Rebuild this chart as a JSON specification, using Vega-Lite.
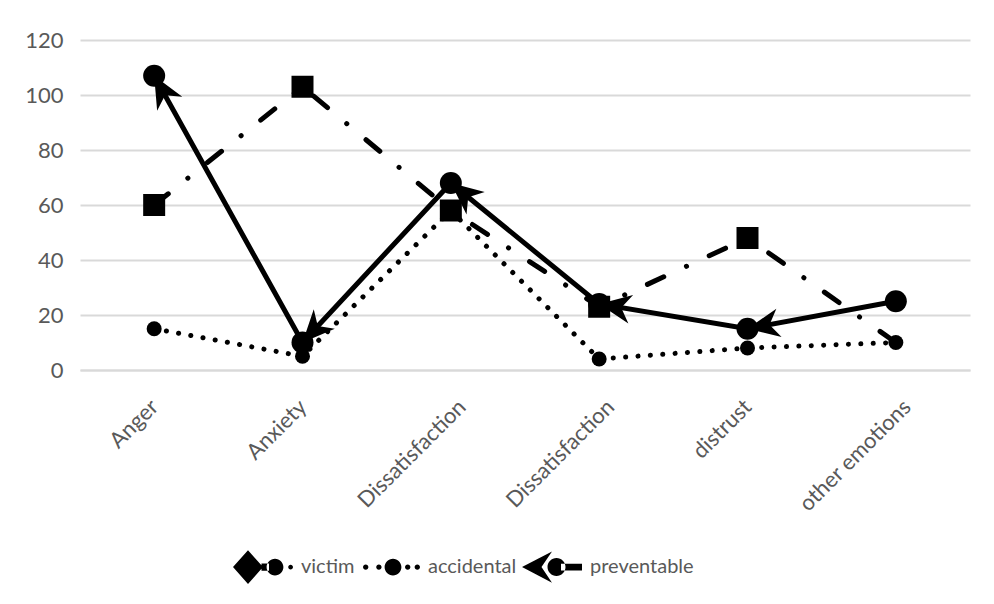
{
  "$schema": "https://vega.github.io/schema/vega-lite/v6.json",
  "width": 890,
  "height": 330,
  "autosize": {"type": "none"},
  "padding": {"left": 80, "top": 40, "right": 24, "bottom": 234},
  "background": "white",
  "config": {
    "font": "Lato",
    "view": {"stroke": null},
    "axis": {
      "labelFont": "Lato",
      "labelFontSize": 22,
      "labelColor": "#595959",
      "title": null,
      "ticks": false
    },
    "legend": {
      "labelFont": "Lato",
      "labelFontSize": 20,
      "labelColor": "#595959"
    }
  },
  "data": {
    "values": [
      {"emotion": "Anger", "group": "victim", "count": 60},
      {"emotion": "Anxiety", "group": "victim", "count": 103},
      {"emotion": "Dissatisfaction", "group": "victim", "count": 58},
      {"emotion": "Dissatisfaction ", "group": "victim", "count": 23},
      {"emotion": "distrust", "group": "victim", "count": 48},
      {"emotion": "other emotions", "group": "victim", "count": 10},
      {"emotion": "Anger", "group": "accidental", "count": 15},
      {"emotion": "Anxiety", "group": "accidental", "count": 5},
      {"emotion": "Dissatisfaction", "group": "accidental", "count": 58},
      {"emotion": "Dissatisfaction ", "group": "accidental", "count": 4},
      {"emotion": "distrust", "group": "accidental", "count": 8},
      {"emotion": "other emotions", "group": "accidental", "count": 10},
      {"emotion": "Anger", "group": "preventable", "count": 107},
      {"emotion": "Anxiety", "group": "preventable", "count": 10},
      {"emotion": "Dissatisfaction", "group": "preventable", "count": 68},
      {"emotion": "Dissatisfaction ", "group": "preventable", "count": 24},
      {"emotion": "distrust", "group": "preventable", "count": 15},
      {"emotion": "other emotions", "group": "preventable", "count": 25}
    ]
  },
  "encoding": {
    "x": {
      "field": "emotion",
      "type": "ordinal",
      "sort": ["Anger", "Anxiety", "Dissatisfaction", "Dissatisfaction ", "distrust", "other emotions"],
      "scale": {"type": "point", "padding": 0.5},
      "axis": {
        "labelAngle": -45,
        "labelAlign": "right",
        "labelBaseline": "middle",
        "labelPadding": 33,
        "labelOffset": {"condition": {"test": "length(datum.label) > 10", "value": 11}, "value": 0},
        "domain": true,
        "domainColor": "#d9d9d9",
        "domainWidth": 2,
        "grid": false
      }
    },
    "y": {
      "field": "count",
      "type": "quantitative",
      "scale": {"domain": [0, 120], "nice": false},
      "axis": {
        "values": [0, 20, 40, 60, 80, 100, 120],
        "domain": false,
        "grid": true,
        "gridColor": "#d9d9d9",
        "gridWidth": 2,
        "labelPadding": 17
      }
    }
  },
  "layer": [
    {
      "transform": [{"filter": "datum.group === 'victim'"}],
      "mark": {"type": "line", "color": "black", "strokeWidth": 5, "strokeCap": "round", "strokeDash": [18, 25, 0.1, 25]}
    },
    {
      "transform": [{"filter": "datum.group === 'victim' && datum.emotion !== 'other emotions'"}],
      "mark": {"type": "point", "shape": "square", "filled": true, "color": "black", "opacity": 1, "size": 484}
    },
    {
      "transform": [{"filter": "datum.group === 'accidental'"}],
      "mark": {"type": "line", "color": "black", "strokeWidth": 5, "strokeCap": "round", "strokeDash": [0.1, 12.3]}
    },
    {
      "transform": [{"filter": "datum.group === 'accidental'"}],
      "mark": {"type": "point", "shape": "circle", "filled": true, "color": "black", "opacity": 1, "size": 225}
    },
    {
      "transform": [{"filter": "datum.group === 'preventable'"}],
      "mark": {"type": "line", "color": "black", "strokeWidth": 5}
    },
    {
      "transform": [
        {"filter": "datum.group === 'preventable'"},
        {"window": [{"op": "lead", "field": "count", "as": "next"}]},
        {"filter": "datum.next != null"},
        {"calculate": "atan2((datum.count - datum.next) * 2.75, 148.33) * 180 / PI", "as": "heading"}
      ],
      "mark": {"type": "point", "shape": "M0,0L2,-0.9L1.4,0L2,0.9Z", "filled": true, "color": "black", "opacity": 1, "size": 1024},
      "encoding": {
        "angle": {"field": "heading", "type": "quantitative", "scale": null}
      }
    },
    {
      "transform": [{"filter": "datum.group === 'preventable'"}],
      "mark": {"type": "point", "shape": "circle", "filled": true, "color": "black", "opacity": 1, "size": 484}
    },
    {
      "transform": [{"filter": "false"}],
      "mark": {"type": "point", "filled": true, "color": "black", "opacity": 1},
      "encoding": {
        "shape": {
          "field": "group",
          "type": "nominal",
          "scale": {
            "domain": ["victim", "accidental", "preventable"],
            "range": [
              "M-1,0L-0.5,-0.56L0,0L-0.5,0.56Z M-0.05,-0.12L0.2,-0.12L0.2,0.12L-0.05,0.12Z M0.12,0A0.28,0.28 0 1,0 0.68,0A0.28,0.28 0 1,0 0.12,0Z M0.84,0A0.08,0.08 0 1,0 1,0A0.08,0.08 0 1,0 0.84,0Z",
              "M0,-0.56L0.001,-0.56L0,-0.56Z M0,0.56L0.001,0.56L0,0.56Z M-0.9,0A0.09,0.09 0 1,0 -0.72,0A0.09,0.09 0 1,0 -0.9,0Z M-0.46,0A0.09,0.09 0 1,0 -0.28,0A0.09,0.09 0 1,0 -0.46,0Z M-0.18,0A0.28,0.28 0 1,0 0.38,0A0.28,0.28 0 1,0 -0.18,0Z M0.5,0A0.09,0.09 0 1,0 0.68,0A0.09,0.09 0 1,0 0.5,0Z M0.82,0A0.09,0.09 0 1,0 1,0A0.09,0.09 0 1,0 0.82,0Z",
              "M0,-0.56L0.001,-0.56L0,-0.56Z M0,0.56L0.001,0.56L0,0.56Z M-1,0L0,-0.52L-0.35,0L0,0.52Z M-0.15,0A0.3,0.3 0 1,0 0.45,0A0.3,0.3 0 1,0 -0.15,0Z M0.3,-0.11L1,-0.11L1,0.11L0.3,0.11Z"
            ]
          },
          "legend": {
            "orient": "none",
            "legendX": 153,
            "legendY": 497,
            "direction": "horizontal",
            "title": null,
            "padding": 0,
            "symbolSize": 3600,
            "symbolFillColor": "black",
            "symbolStrokeColor": "black",
            "symbolStrokeWidth": 0,
            "symbolOpacity": 1,
            "labelOffset": 8,
            "columnPadding": 5
          }
        }
      }
    }
  ]
}
